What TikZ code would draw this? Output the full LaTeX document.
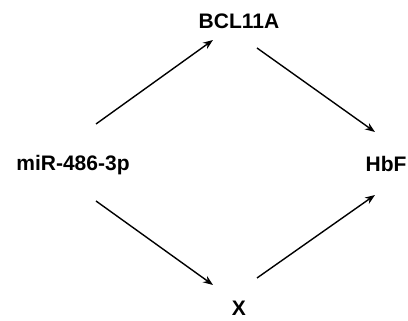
\documentclass[tikz,border=0pt]{standalone}
\usepackage{fontspec}
\setmainfont{Liberation Sans}
\usetikzlibrary{arrows.meta}
\begin{document}
\begin{tikzpicture}[x=1pt,y=1pt,
  label/.style={inner sep=0pt,font=\fontsize{21}{25}\selectfont\bfseries},
  link/.style={line width=1.4pt,-{Stealth[length=10pt,width=7.5pt]}}]
\useasboundingbox (0,0) rectangle (408,321);
% labels
\node[label] (bcl) at (239,300) {BCL11A};
\node[label] (mir) at (73,156) {miR-486-3p};
\node[label] (hbf) at (386,157) {HbF};
\node[label] (x)   at (239,13) {X};
% arrow end points
\coordinate (a1s) at (96,197);
\coordinate (a1e) at (213,281);
\coordinate (a2s) at (257,273);
\coordinate (a2e) at (375,189);
\coordinate (a3s) at (96,120);
\coordinate (a3e) at (213,36);
\coordinate (a4s) at (257,43);
\coordinate (a4e) at (375,126);
% arrows
\draw[link] (a1s) -- (a1e);
\draw[link] (a2s) -- (a2e);
\draw[link] (a3s) -- (a3e);
\draw[link] (a4s) -- (a4e);
\end{tikzpicture}
\end{document}
